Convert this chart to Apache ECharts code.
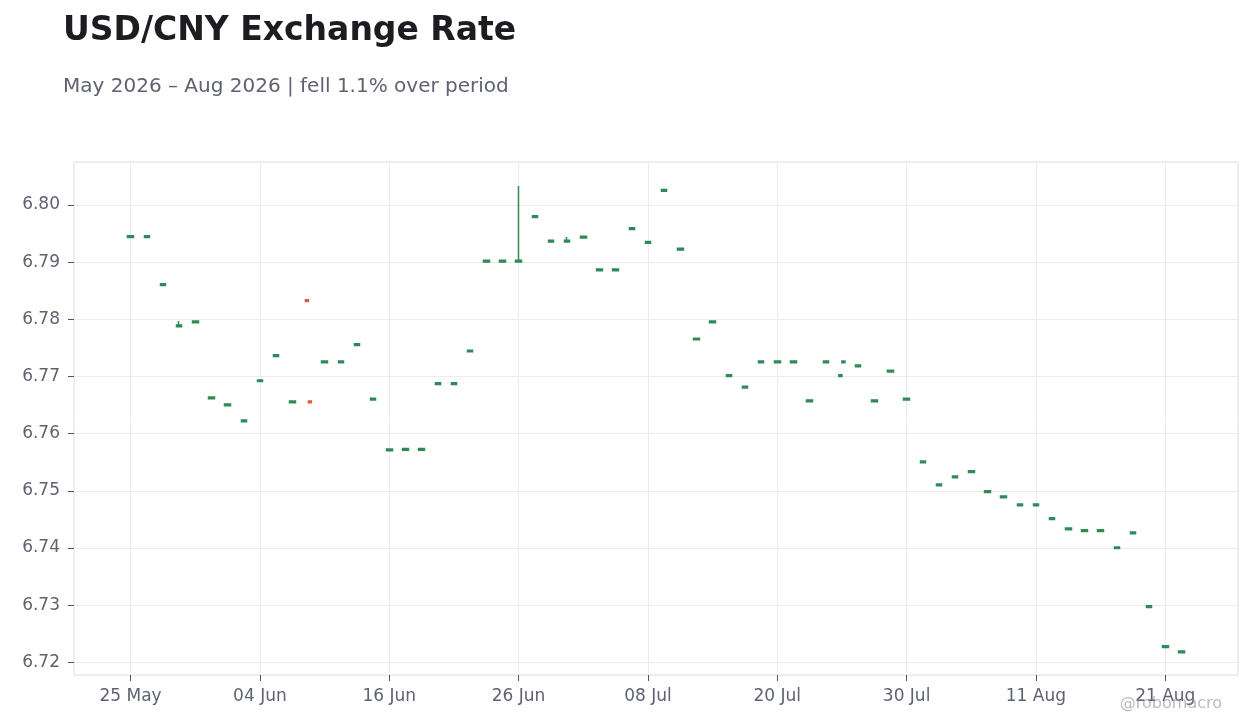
<!DOCTYPE html>
<html style="height: 100%">
<head>
  <meta charset="utf-8">
</head>
<body style="height: 100%; margin: 0; background: #ffffff">
  <div id="container" style="height: 100%"></div>

  <script type="text/javascript" src="https://cdn.jsdelivr.net/npm/echarts@6.0.0/dist/echarts.min.js"></script>
  <script type="text/javascript">
    // trading days (weekdays only)
    const tradeDates = [
      '2026-05-25', '2026-05-26', '2026-05-27', '2026-05-28', '2026-05-29',
      '2026-06-01', '2026-06-02', '2026-06-03', '2026-06-04', '2026-06-05',
      '2026-06-08', '2026-06-09', '2026-06-10', '2026-06-11', '2026-06-12',
      '2026-06-15', '2026-06-16', '2026-06-17', '2026-06-18', '2026-06-19',
      '2026-06-22', '2026-06-23', '2026-06-24', '2026-06-25', '2026-06-26',
      '2026-06-29', '2026-06-30', '2026-07-01', '2026-07-02', '2026-07-03',
      '2026-07-06', '2026-07-07', '2026-07-08', '2026-07-09', '2026-07-10',
      '2026-07-13', '2026-07-14', '2026-07-15', '2026-07-16', '2026-07-17',
      '2026-07-20', '2026-07-21', '2026-07-22', '2026-07-23', '2026-07-24',
      '2026-07-27', '2026-07-28', '2026-07-29', '2026-07-30', '2026-07-31',
      '2026-08-03', '2026-08-04', '2026-08-05', '2026-08-06', '2026-08-07',
      '2026-08-10', '2026-08-11', '2026-08-12', '2026-08-13', '2026-08-14',
      '2026-08-17', '2026-08-18', '2026-08-19', '2026-08-20', '2026-08-21',
      '2026-08-24'
    ];

    // daily OHLC ('-' where the day has two quotes, see below)
    const openRates = [
      6.7943, 6.7943, 6.7859, 6.7787, 6.7794,
      6.7661, 6.7649, 6.7621, 6.7691, 6.7735,
      6.7654, '-', 6.7724, 6.7724, 6.7754,
      6.7659, 6.7570, 6.7571, 6.7571, 6.7686,
      6.7686, 6.7743, 6.7900, 6.7900, 6.7900,
      6.7978, 6.7935, 6.7935, 6.7942, 6.7885,
      6.7885, 6.7957, 6.7933, 6.8024, 6.7921,
      6.7764, 6.7794, 6.7700, 6.7680, 6.7724,
      6.7724, 6.7724, 6.7656, 6.7724, '-',
      6.7717, 6.7656, 6.7708, 6.7659, 6.7549,
      6.7509, 6.7523, 6.7532, 6.7497, 6.7488,
      6.7474, 6.7474, 6.7450, 6.7432, 6.7429,
      6.7429, 6.7399, 6.7425, 6.7296, 6.7226,
      6.7217
    ];
    const closeRates = [
      6.7946, 6.7946, 6.7862, 6.7790, 6.7797,
      6.7664, 6.7652, 6.7624, 6.7694, 6.7738,
      6.7657, '-', 6.7727, 6.7727, 6.7757,
      6.7662, 6.7573, 6.7574, 6.7574, 6.7689,
      6.7689, 6.7746, 6.7903, 6.7903, 6.7903,
      6.7981, 6.7938, 6.7938, 6.7945, 6.7888,
      6.7888, 6.7960, 6.7936, 6.8027, 6.7924,
      6.7767, 6.7797, 6.7703, 6.7683, 6.7727,
      6.7727, 6.7727, 6.7659, 6.7727, '-',
      6.7720, 6.7659, 6.7711, 6.7662, 6.7552,
      6.7512, 6.7526, 6.7535, 6.7500, 6.7491,
      6.7477, 6.7477, 6.7453, 6.7435, 6.7432,
      6.7432, 6.7402, 6.7428, 6.7299, 6.7229,
      6.7220
    ];
    const lowRates = [
      6.7943, 6.7943, 6.7859, 6.7787, 6.7794,
      6.7661, 6.7649, 6.7621, 6.7691, 6.7735,
      6.7654, '-', 6.7724, 6.7724, 6.7754,
      6.7659, 6.7570, 6.7571, 6.7571, 6.7686,
      6.7686, 6.7743, 6.7900, 6.7900, 6.7900,
      6.7978, 6.7935, 6.7935, 6.7942, 6.7885,
      6.7885, 6.7957, 6.7933, 6.8024, 6.7921,
      6.7764, 6.7794, 6.7700, 6.7680, 6.7724,
      6.7724, 6.7724, 6.7656, 6.7724, '-',
      6.7717, 6.7656, 6.7708, 6.7659, 6.7549,
      6.7509, 6.7523, 6.7532, 6.7497, 6.7488,
      6.7474, 6.7474, 6.7450, 6.7432, 6.7429,
      6.7429, 6.7399, 6.7425, 6.7296, 6.7226,
      6.7217
    ];
    const highRates = [
      6.7946, 6.7946, 6.7862, 6.7797, 6.7797,
      6.7664, 6.7652, 6.7624, 6.7694, 6.7738,
      6.7657, '-', 6.7727, 6.7727, 6.7757,
      6.7662, 6.7573, 6.7574, 6.7574, 6.7689,
      6.7689, 6.7746, 6.7903, 6.7903, 6.8033,
      6.7981, 6.7938, 6.7944, 6.7945, 6.7888,
      6.7888, 6.7960, 6.7936, 6.8027, 6.7924,
      6.7767, 6.7797, 6.7703, 6.7683, 6.7727,
      6.7727, 6.7727, 6.7659, 6.7727, '-',
      6.7720, 6.7659, 6.7711, 6.7662, 6.7552,
      6.7512, 6.7526, 6.7535, 6.7500, 6.7491,
      6.7477, 6.7477, 6.7453, 6.7435, 6.7432,
      6.7432, 6.7402, 6.7428, 6.7299, 6.7229,
      6.7220
    ];

    // days carrying two quotes: [date, open, close, low, high]
    const firstQuotes = [
      ['2026-06-09', 6.7834, 6.7831, 6.7831, 6.7834],
      ['2026-07-24', 6.7700, 6.7703, 6.7700, 6.7703]
    ];
    const secondQuotes = [
      ['2026-06-09', 6.7657, 6.7654, 6.7654, 6.7657],
      ['2026-07-24', 6.7724, 6.7727, 6.7724, 6.7727]
    ];

    const yTicks = [6.72, 6.73, 6.74, 6.75, 6.76, 6.77, 6.78, 6.79, 6.80];

    const UP = '#2e8b57';
    const DOWN = '#d6603c';
    const FONT = 'DejaVu Sans';
    const MONTHS = ['Jan', 'Feb', 'Mar', 'Apr', 'May', 'Jun', 'Jul', 'Aug', 'Sep', 'Oct', 'Nov', 'Dec'];
    const PAD = 3; // empty slots either side of the data
    const LABEL_EVERY = 8;

    var categories = [];
    var candles = [];
    for (var p = 0; p < PAD; p++) { categories.push(''); candles.push('-'); }
    tradeDates.forEach(function (d, i) {
      categories.push(d);
      if (openRates[i] === '-') candles.push('-');
      else candles.push([openRates[i], closeRates[i], lowRates[i], highRates[i]]);
    });
    for (var q = 0; q < PAD; q++) { categories.push(''); candles.push('-'); }

    function toSlot(rows) {
      return rows.map(function (r) {
        return [PAD + tradeDates.indexOf(r[0]), r[1], r[2], r[3], r[4]];
      });
    }

    function showEvery(idx) {
      var k = idx - PAD;
      return k >= 0 && k < tradeDates.length && k % LABEL_EVERY === 0;
    }

    function fmtDate(v) {
      if (!v) return '';
      var parts = v.split('-');
      return parts[2] + ' ' + MONTHS[+parts[1] - 1];
    }

    // two quotes on one day are drawn side by side, half width
    function makePairRenderer(shift) {
      return function (params, api) {
        var slot = api.value(0);
        var o = api.value(1), c = api.value(2), lo = api.value(3), hi = api.value(4);
        var top = api.coord([slot, Math.max(o, c)]);
        var bot = api.coord([slot, Math.min(o, c)]);
        var hiPt = api.coord([slot, hi]);
        var loPt = api.coord([slot, lo]);
        var x = top[0] + shift;
        var col = c >= o ? UP : DOWN;
        return {
          type: 'group',
          children: [
            { type: 'line', shape: { x1: x, y1: hiPt[1], x2: x, y2: loPt[1] }, style: { stroke: col, lineWidth: 1.5 } },
            { type: 'rect', shape: { x: x - 1.5, y: top[1], width: 3, height: Math.max(bot[1] - top[1], 1) },
              style: { fill: col, stroke: col, lineWidth: 1.5 } }
          ]
        };
      };
    }

    var dom = document.getElementById('container');
    var myChart = echarts.init(dom);

    var option = {
      animation: false,
      backgroundColor: '#ffffff',
      textStyle: { fontFamily: FONT },
      title: [
        {
          text: 'USD/CNY Exchange Rate',
          left: 63,
          top: 15,
          padding: 0,
          textStyle: { fontFamily: FONT, fontSize: 33, fontWeight: 'bold', color: '#1c1c21' }
        },
        {
          text: 'May 2026 \u2013 Aug 2026 | fell 1.1% over period',
          left: 63,
          top: 77,
          padding: 0,
          textStyle: { fontFamily: FONT, fontSize: 20, fontWeight: 'normal', color: '#5f6270' }
        }
      ],
      graphic: [
        {
          type: 'text',
          right: 38,
          top: 696,
          z: 100,
          style: { text: '@robomacro', font: '16px "DejaVu Sans"', fill: 'rgba(140,140,150,0.6)' }
        }
      ],
      grid: {
        left: 74,
        right: 22,
        top: 162,
        bottom: 53,
        show: true,
        borderColor: '#dedede',
        borderWidth: 1
      },
      xAxis: {
        type: 'category',
        data: categories,
        boundaryGap: true,
        axisLine: { show: false },
        axisTick: {
          show: true,
          alignWithLabel: true,
          interval: showEvery,
          length: 6,
          lineStyle: { color: '#555555' }
        },
        axisLabel: {
          interval: showEvery,
          formatter: fmtDate,
          color: '#5f6270',
          fontFamily: FONT,
          fontSize: 17,
          margin: 13
        },
        splitLine: {
          show: true,
          alignWithLabel: true,
          interval: showEvery,
          lineStyle: { color: '#ececec' }
        }
      },
      yAxis: {
        type: 'value',
        min: 6.7178,
        max: 6.8075,
        splitNumber: 9,
        axisLine: { show: false },
        axisTick: {
          show: true,
          customValues: yTicks,
          length: 6,
          lineStyle: { color: '#555555' }
        },
        axisLabel: {
          customValues: yTicks,
          color: '#5f6270',
          fontFamily: FONT,
          fontSize: 17,
          margin: 14,
          formatter: function (v) { return v.toFixed(2); }
        },
        splitLine: { show: true, lineStyle: { color: '#ececec' } }
      },
      series: [
        {
          name: 'USD/CNY',
          type: 'candlestick',
          data: candles,
          barWidth: 6,
          itemStyle: {
            color: UP,
            color0: DOWN,
            borderColor: UP,
            borderColor0: DOWN,
            borderWidth: 1.5
          },
          emphasis: { disabled: true }
        },
        {
          name: 'first quote',
          type: 'custom',
          renderItem: makePairRenderer(-1.5),
          encode: { x: 0, y: [1, 2, 3, 4] },
          data: toSlot(firstQuotes)
        },
        {
          name: 'second quote',
          type: 'custom',
          renderItem: makePairRenderer(1.5),
          encode: { x: 0, y: [1, 2, 3, 4] },
          data: toSlot(secondQuotes)
        }
      ]
    };

    myChart.setOption(option);
  </script>
</body>
</html>
